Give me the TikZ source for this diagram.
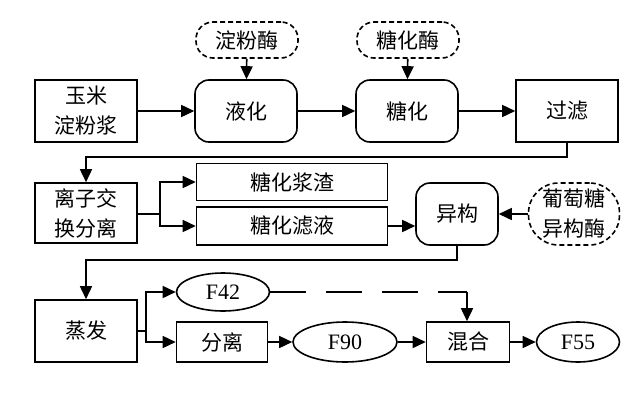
\documentclass[tikz,border=0pt]{standalone}
\usepackage{fontspec}
\setmainfont{Liberation Serif}
\newfontfamily\cjk{Noto Sans CJK SC}
\usetikzlibrary{arrows.meta,shapes.geometric,calc}
\begin{document}
\begin{tikzpicture}[x=1pt,y=-1pt,
  every node/.style={font=\cjk\fontsize{21}{30}\selectfont, inner sep=0pt, align=center},
  box/.style={draw, line width=1.6pt, rectangle},
  rbox/.style={box, rounded corners=14pt},
  dbox/.style={draw, line width=1.6pt, dashed, dash pattern=on 5pt off 3pt, rounded corners=17pt},
  ell/.style={draw, line width=1.6pt, ellipse, font=\rmfamily\fontsize{22}{24}\selectfont},
  ln/.style={line width=1.6pt},
  arr/.style={line width=1.6pt, -{Triangle[length=13pt,width=12pt]}}
]
\useasboundingbox (0,0) rectangle (640,402);
% row 1
\node[box, minimum width=102pt, minimum height=62pt] (corn) at (86,111) {玉米\\淀粉浆};
\node[rbox, minimum width=102pt, minimum height=62pt] (liq) at (246,111) {液化};
\node[dbox, minimum width=102pt, minimum height=36pt] (amyl) at (247,40) {淀粉酶};
\node[rbox, minimum width=102pt, minimum height=62pt] (sacc) at (407,111) {糖化};
\node[dbox, minimum width=102pt, minimum height=36pt] (gluco) at (408,40) {糖化酶};
\node[box, minimum width=102pt, minimum height=62pt] (filt) at (567,111) {过滤};
% row 2
\node[box, minimum width=102pt, minimum height=60pt] (ion) at (86,213) {离子交\\换分离};
\node[box, minimum width=191pt, minimum height=37pt] (resid) at (292,182) {糖化浆渣};
\node[box, minimum width=191pt, minimum height=38pt] (filtr) at (292,226) {糖化滤液};
\node[rbox, minimum width=82pt, minimum height=62pt] (iso) at (457,214) {异构};
\node[dbox, rounded corners=30pt, minimum width=91pt, minimum height=62pt] (gi) at (574,214) {葡萄糖\\异构酶};
% row 3
\node[box, minimum width=102pt, minimum height=62pt] (evap) at (86,331) {蒸发};
\node[ell, minimum width=93pt, minimum height=38pt] (f42) at (223,292) {F42};
\node[box, minimum width=91pt, minimum height=40pt] (sep) at (222,342) {分离};
\node[ell, minimum width=104pt, minimum height=40pt] (f90) at (345,342) {F90};
\node[box, minimum width=83pt, minimum height=40pt] (mix) at (468,342) {混合};
\node[ell, minimum width=83pt, minimum height=40pt] (f55) at (578,342) {F55};
% connectors row 1
\draw[arr] (corn) -- (liq);
\draw[arr] (liq) -- (sacc);
\draw[arr] (sacc) -- (filt);
\draw[arr] (amyl) -- (liq);
\draw[arr] (gluco) -- (sacc);
\coordinate (j1) at (86,157);
\draw[arr] (filt.south) |- (j1) -- (ion.north);
% row 2
\coordinate (f1) at (160,214);
\draw[ln] (ion.east |- f1) -- (f1);
\draw[arr] (f1) |- (resid.west);
\draw[arr] (f1) |- (filtr.west);
\draw[arr] (filtr.east) -- (filtr.east -| iso.west);
\draw[arr] (gi.west) -- (iso.east);
\coordinate (j2) at (86,260);
\draw[arr] (iso.south) |- (j2) -- (evap.north);
% row 3
\coordinate (f2) at (146,331);
\draw[ln] (evap.east |- f2) -- (f2);
\draw[arr] (f2) |- (f42.west);
\draw[arr] (f2) |- (sep.west);
\draw[arr] (sep) -- (f90);
\draw[arr] (f90) -- (mix);
\draw[arr] (mix) -- (f55);
\coordinate (j3) at (467,292);
\draw[ln, dash pattern=on 36pt off 20pt] (f42.east) -- (j3);
\draw[arr] (j3) -- (j3 |- mix.north);
\end{tikzpicture}
\end{document}
